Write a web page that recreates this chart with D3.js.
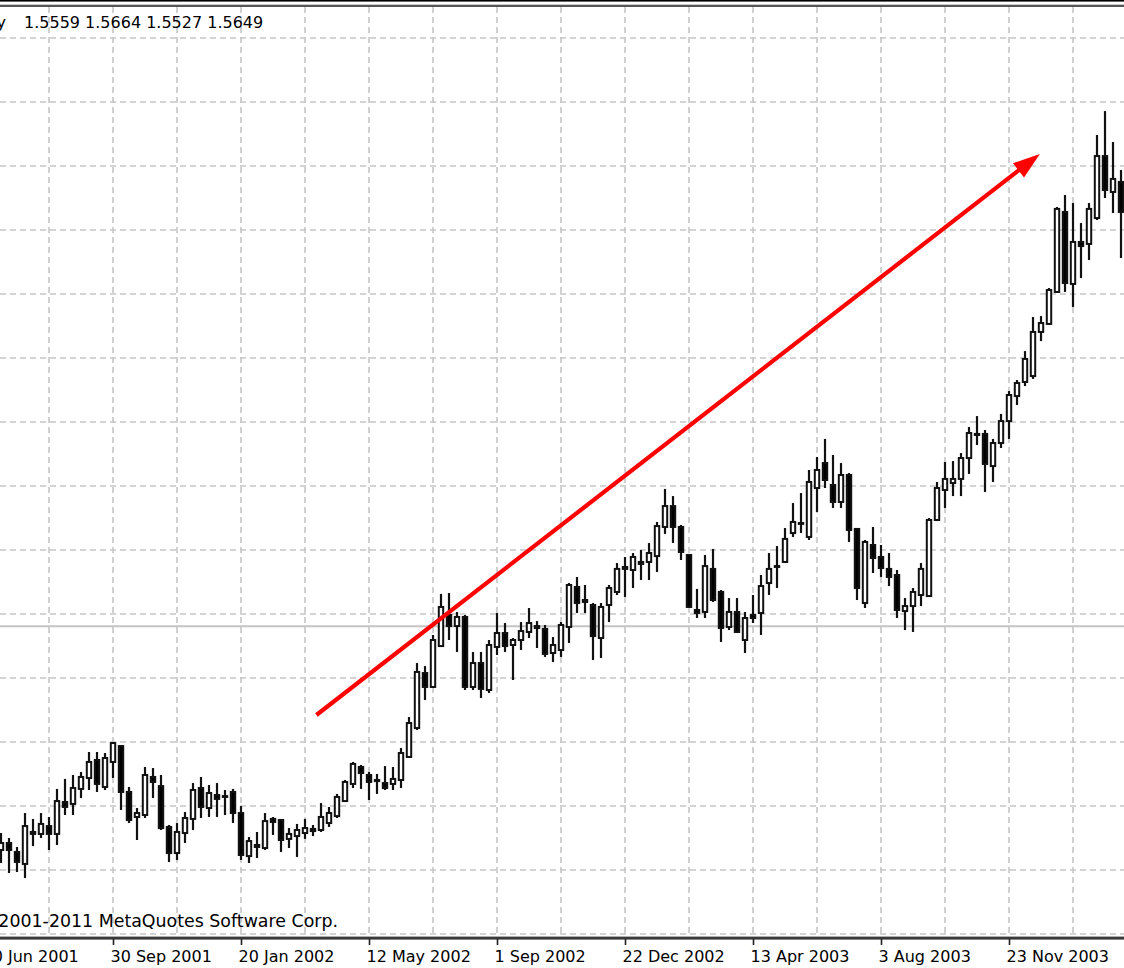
<!DOCTYPE html>
<html>
<head>
<meta charset="utf-8">
<script src="https://cdnjs.cloudflare.com/ajax/libs/d3/7.8.5/d3.min.js"></script>
<style>
  html, body { margin: 0; padding: 0; background: #fff; }
  svg { display: block; font-family: "DejaVu Sans", sans-serif; }
</style>
</head>
<body>
<div id="chart"></div>
<script>
// weekly GBPUSD bars, 24 Jun 2001 .. 29 Feb 2004
const symbol = "GBPUSD,Weekly";
const lastBar = ["1.5559", "1.5664", "1.5527", "1.5649"];
const bidPrice = 1.5649;
const copyright = "\u00a9 2001-2011 MetaQuotes Software Corp.";
const firstWeek = "2001-06-24";
const lastWeek = "2004-02-29";

const open = [
  1.4172, 1.4218, 1.4159, 1.4080, 1.4291, 1.4278, 1.4330, 1.4278, 1.4489, 1.4476,
  1.4575, 1.4647, 1.4766, 1.4588, 1.4753, 1.4858, 1.4555, 1.4390, 1.4403, 1.4654,
  1.4594, 1.4324, 1.4152, 1.4284, 1.4377, 1.4581, 1.4449, 1.4535, 1.4528, 1.4555,
  1.4416, 1.4132, 1.4192, 1.4185, 1.4377, 1.4370, 1.4245, 1.4264, 1.4284, 1.4311,
  1.4304, 1.4350, 1.4396, 1.4495, 1.4608, 1.4720, 1.4667, 1.4634, 1.4614, 1.4608,
  1.4634, 1.4786, 1.4977, 1.5340, 1.5248, 1.5518, 1.5723, 1.5650, 1.5710, 1.5248,
  1.5406, 1.5228, 1.5512, 1.5604, 1.5525, 1.5558, 1.5611, 1.5650, 1.5631, 1.5472,
  1.5492, 1.5644, 1.5908, 1.5822, 1.5789, 1.5571, 1.5789, 1.5875, 1.6040, 1.6020,
  1.6073, 1.6073, 1.6112, 1.6304, 1.6442, 1.6304, 1.6119, 1.5756, 1.5743, 1.6027,
  1.5875, 1.5644, 1.5743, 1.5558, 1.5723, 1.5736, 1.5934, 1.6046, 1.6073, 1.6264,
  1.6330, 1.6238, 1.6561, 1.6726, 1.6581, 1.6469, 1.6647, 1.6291, 1.5802, 1.6185,
  1.6106, 1.6027, 1.5987, 1.5749, 1.5782, 1.5855, 1.5848, 1.6350, 1.6548, 1.6594,
  1.6621, 1.6759, 1.6918, 1.6918, 1.6706, 1.6858, 1.7003, 1.7168, 1.7261, 1.7300,
  1.7591, 1.7644, 1.7855, 1.8383, 1.7908, 1.8185, 1.8172, 1.8343, 1.8752, 1.8515,
  1.8581
];
const high = [
  1.4284, 1.4251, 1.4192, 1.4416, 1.4377, 1.4416, 1.4390, 1.4575, 1.4641, 1.4667,
  1.4687, 1.4819, 1.4819, 1.4812, 1.4885, 1.4865, 1.4588, 1.4449, 1.4720, 1.4713,
  1.4667, 1.4337, 1.4350, 1.4423, 1.4614, 1.4654, 1.4601, 1.4614, 1.4568, 1.4575,
  1.4462, 1.4258, 1.4291, 1.4416, 1.4390, 1.4377, 1.4317, 1.4344, 1.4377, 1.4337,
  1.4482, 1.4456, 1.4542, 1.4634, 1.4753, 1.4733, 1.4687, 1.4674, 1.4726, 1.4720,
  1.4845, 1.5050, 1.5406, 1.5386, 1.5591, 1.5862, 1.5868, 1.5743, 1.5723, 1.5479,
  1.5479, 1.5558, 1.5736, 1.5670, 1.5571, 1.5677, 1.5769, 1.5683, 1.5657, 1.5578,
  1.5677, 1.5934, 1.5974, 1.5921, 1.5802, 1.5802, 1.5921, 1.6066, 1.6106, 1.6132,
  1.6152, 1.6198, 1.6337, 1.6555, 1.6508, 1.6317, 1.6126, 1.5895, 1.6119, 1.6159,
  1.5888, 1.5835, 1.5835, 1.5743, 1.5855, 1.5987, 1.6132, 1.6178, 1.6297, 1.6462,
  1.6528, 1.6680, 1.6766, 1.6885, 1.6779, 1.6726, 1.6660, 1.6297, 1.6218, 1.6304,
  1.6185, 1.6132, 1.6020, 1.5835, 1.5901, 1.6066, 1.6363, 1.6601, 1.6733, 1.6739,
  1.6792, 1.6964, 1.7036, 1.6944, 1.6885, 1.7050, 1.7201, 1.7274, 1.7465, 1.7690,
  1.7696, 1.7881, 1.8416, 1.8495, 1.8442, 1.8310, 1.8442, 1.8891, 1.9049, 1.8845,
  1.8660
];
const low = [
  1.4086, 1.4020, 1.4027, 1.3987, 1.4198, 1.4251, 1.4172, 1.4205, 1.4403, 1.4403,
  1.4515, 1.4568, 1.4555, 1.4568, 1.4647, 1.4436, 1.4350, 1.4238, 1.4383, 1.4515,
  1.4304, 1.4093, 1.4106, 1.4218, 1.4304, 1.4383, 1.4390, 1.4390, 1.4403, 1.4350,
  1.4106, 1.4086, 1.4119, 1.4172, 1.4271, 1.4159, 1.4185, 1.4126, 1.4245, 1.4264,
  1.4291, 1.4324, 1.4383, 1.4489, 1.4581, 1.4575, 1.4502, 1.4542, 1.4568, 1.4568,
  1.4581, 1.4779, 1.4964, 1.5162, 1.5241, 1.5512, 1.5558, 1.5479, 1.5228, 1.5228,
  1.5175, 1.5208, 1.5459, 1.5479, 1.5294, 1.5492, 1.5571, 1.5505, 1.5446, 1.5413,
  1.5446, 1.5538, 1.5736, 1.5736, 1.5426, 1.5439, 1.5677, 1.5855, 1.5842, 1.5901,
  1.5954, 1.5954, 1.6007, 1.6258, 1.6198, 1.6086, 1.5769, 1.5703, 1.5703, 1.5809,
  1.5545, 1.5624, 1.5604, 1.5472, 1.5670, 1.5591, 1.5855, 1.5901, 1.6066, 1.6238,
  1.6264, 1.6218, 1.6403, 1.6561, 1.6429, 1.6429, 1.6205, 1.5822, 1.5769, 1.6000,
  1.5974, 1.5914, 1.5703, 1.5624, 1.5611, 1.5782, 1.5842, 1.6343, 1.6429, 1.6508,
  1.6508, 1.6654, 1.6845, 1.6535, 1.6601, 1.6825, 1.6885, 1.7109, 1.7234, 1.7281,
  1.7531, 1.7637, 1.7848, 1.7855, 1.7756, 1.7947, 1.8066, 1.8330, 1.8475, 1.8376,
  1.8079
];
const close = [
  1.4218, 1.4172, 1.4093, 1.4330, 1.4278, 1.4344, 1.4278, 1.4495, 1.4456, 1.4581,
  1.4654, 1.4753, 1.4608, 1.4779, 1.4878, 1.4555, 1.4370, 1.4416, 1.4667, 1.4621,
  1.4317, 1.4152, 1.4291, 1.4383, 1.4568, 1.4456, 1.4548, 1.4509, 1.4522, 1.4416,
  1.4139, 1.4231, 1.4205, 1.4363, 1.4357, 1.4238, 1.4278, 1.4304, 1.4317, 1.4297,
  1.4390, 1.4416, 1.4522, 1.4621, 1.4740, 1.4680, 1.4621, 1.4627, 1.4581, 1.4641,
  1.4812, 1.5010, 1.5347, 1.5248, 1.5558, 1.5776, 1.5650, 1.5710, 1.5248, 1.5406,
  1.5235, 1.5525, 1.5604, 1.5518, 1.5558, 1.5617, 1.5670, 1.5637, 1.5466, 1.5525,
  1.5657, 1.5921, 1.5802, 1.5809, 1.5584, 1.5776, 1.5901, 1.6027, 1.6027, 1.6106,
  1.6060, 1.6132, 1.6310, 1.6442, 1.6304, 1.6139, 1.5776, 1.5736, 1.6046, 1.5822,
  1.5637, 1.5743, 1.5611, 1.5703, 1.5703, 1.5914, 1.6027, 1.6040, 1.6225, 1.6337,
  1.6324, 1.6601, 1.6680, 1.6614, 1.6469, 1.6647, 1.6284, 1.5901, 1.6205, 1.6099,
  1.6033, 1.5974, 1.5756, 1.5782, 1.5875, 1.6027, 1.6350, 1.6561, 1.6621, 1.6621,
  1.6759, 1.6924, 1.6911, 1.6720, 1.6858, 1.7003, 1.7175, 1.7254, 1.7413, 1.7591,
  1.7650, 1.7868, 1.8403, 1.7914, 1.8185, 1.8158, 1.8403, 1.8752, 1.8528, 1.8601,
  1.8383
];

// horizontal grid levels (price axis is off-screen to the right)
const gridPrices = [1.9531, 1.9109, 1.8686, 1.8264, 1.7842, 1.7419, 1.6997, 1.6574,
                    1.6152, 1.5730, 1.5307, 1.4885, 1.4462, 1.4040, 1.3618];
const tickLabels = ["10 Jun 2001", "30 Sep 2001", "20 Jan 2002", "12 May 2002", "1 Sep 2002",
                    "22 Dec 2002", "13 Apr 2003", "3 Aug 2003", "23 Nov 2003"];
// red trend arrow drawn on the chart
const arrowFrom = {date: "2002-03-27", price: 1.5063};
const arrowTo   = {date: "2003-12-20", price: 1.8766};

const W = 1124, H = 968;
const weeks = d3.utcWeek.range(new Date(firstWeek), d3.utcDay.offset(new Date(lastWeek), 1));
const bars = weeks.map((d, i) => ({date: d, o: open[i], h: high[i], l: low[i], c: close[i]}));
const parseTick = d3.utcParse("%d %b %Y");
const tickDates = tickLabels.map(parseTick);

const x = d3.scaleUtc()
    .domain([new Date("2001-09-30"), new Date("2003-11-23")])
    .range([113, 1009]);
const y = d3.scaleLinear()
    .domain([1.4040, 1.9782])
    .range([870, 0]);

const svg = d3.select("#chart").append("svg")
    .attr("width", W).attr("height", H)
    .attr("viewBox", `0 0 ${W} ${H}`);
svg.append("rect").attr("width", W).attr("height", H).attr("fill", "#fff");

// frame at the top
svg.append("rect").attr("x", 0).attr("y", 0).attr("width", W).attr("height", 1.6).attr("fill", "#000");
svg.append("rect").attr("x", 0).attr("y", 4.7).attr("width", W).attr("height", 2.3).attr("fill", "#555");

// grid
const grid = svg.append("g").attr("stroke", "#c6c6c6").attr("stroke-width", 1.6)
    .attr("stroke-dasharray", "6,4").attr("fill", "none");
grid.selectAll("line.h").data(gridPrices).join("line")
    .attr("class", "h")
    .attr("x1", 0).attr("x2", W)
    .attr("y1", d => Math.round(y(d))).attr("y2", d => Math.round(y(d)));
grid.selectAll("line.v").data(weeks.filter((d, i) => i % 8 === 6)).join("line")
    .attr("class", "v")
    .attr("x1", d => x(d)).attr("x2", d => x(d))
    .attr("y1", 7).attr("y2", 936);

// bid line
svg.append("line")
    .attr("x1", 0).attr("x2", W)
    .attr("y1", y(bidPrice)).attr("y2", y(bidPrice))
    .attr("stroke", "#c4c4c4").attr("stroke-width", 2);

// candles
const cand = svg.append("g").selectAll("g").data(bars).join("g");
cand.append("line")
    .attr("x1", d => x(d.date)).attr("x2", d => x(d.date))
    .attr("y1", d => y(d.h)).attr("y2", d => y(d.l))
    .attr("stroke", "#111").attr("stroke-width", 2.2);
cand.append("rect")
    .attr("x", d => x(d.date) - 2.2).attr("width", 4.4)
    .attr("y", d => Math.min(y(d.o), y(d.c)))
    .attr("height", d => Math.max(Math.abs(y(d.o) - y(d.c)), 0.6))
    .attr("fill", d => d.c >= d.o ? "#fff" : "#000")
    .attr("stroke", "#111").attr("stroke-width", 2);

// arrow
const ax0 = x(new Date(arrowFrom.date)), ay0 = y(arrowFrom.price);
const ax1 = x(new Date(arrowTo.date)), ay1 = y(arrowTo.price);
const len = Math.hypot(ax1 - ax0, ay1 - ay0);
const ux = (ax1 - ax0) / len, uy = (ay1 - ay0) / len;
const headL = 27, headW = 9;
const bx = ax1 - ux * headL, by = ay1 - uy * headL;
svg.append("line")
    .attr("x1", ax0).attr("y1", ay0).attr("x2", bx + ux * 3).attr("y2", by + uy * 3)
    .attr("stroke", "#ff0000").attr("stroke-width", 4.2);
svg.append("path")
    .attr("d", `M${ax1},${ay1}L${bx - uy * headW},${by + ux * headW}L${bx + uy * headW},${by - ux * headW}Z`)
    .attr("fill", "#ff0000");

// time axis
svg.append("rect").attr("x", 0).attr("y", 936.6).attr("width", W).attr("height", 3)
    .attr("fill", "#3a3a3a");
const axis = svg.append("g")
    .attr("transform", "translate(0,939)")
    .call(d3.axisBottom(x).tickValues(tickDates).tickFormat(d3.utcFormat("%-d %b %Y")).tickSize(6));
axis.select(".domain").remove();
axis.selectAll(".tick line").attr("stroke", "#222").attr("stroke-width", 1.6);
axis.selectAll(".tick text")
    .attr("text-anchor", "start").attr("x", -3).attr("y", 23).attr("dy", 0)
    .attr("fill", "#000").style("font-size", "16px")
    .style("font-family", "'DejaVu Sans', sans-serif");

// texts
svg.append("text").attr("x", 6).attr("y", 28).attr("text-anchor", "end")
    .attr("font-size", 16).attr("fill", "#000").text(symbol);
svg.append("text").attr("x", 24).attr("y", 28)
    .attr("font-size", 16).attr("fill", "#000").text(lastBar.join(" "));
svg.append("text").attr("x", 338).attr("y", 927).attr("text-anchor", "end")
    .attr("font-size", 17.4).attr("fill", "#000").text(copyright);
</script>
</body>
</html>
